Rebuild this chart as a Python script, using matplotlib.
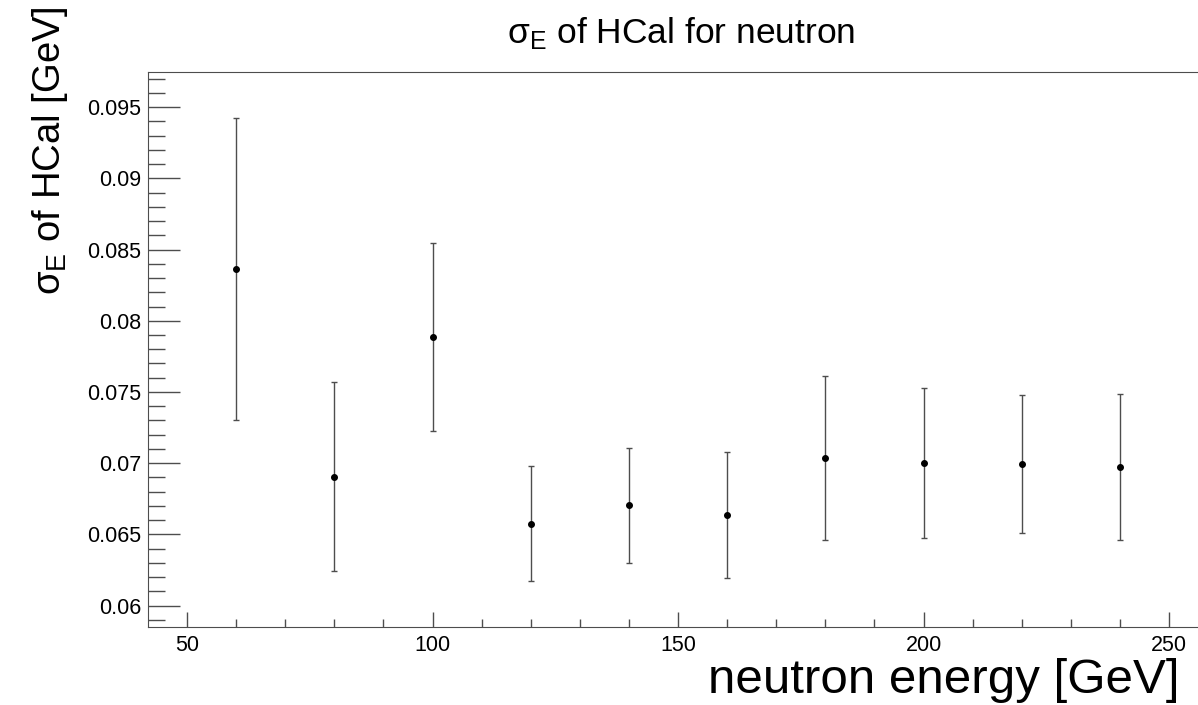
import matplotlib
matplotlib.use("Agg")
import matplotlib.pyplot as plt
from matplotlib.ticker import MultipleLocator, FuncFormatter

plt.rcParams['font.family'] = ['Liberation Sans', 'DejaVu Sans']

# neutron energy [GeV] and sigma_E with its error
energy = [60, 80, 100, 120, 140, 160, 180, 200, 220, 240]
sigma = [0.08362, 0.06905, 0.07885, 0.06575, 0.06706, 0.06634,
         0.07036, 0.07001, 0.06996, 0.06973]
sigma_err = [0.01059, 0.00662, 0.00660, 0.00404, 0.00404, 0.00442,
             0.00576, 0.00524, 0.00483, 0.00512]

fig = plt.figure(figsize=(11.98, 7.05), dpi=100)
ax = fig.add_axes([0.1233, 0.1106, 0.8853, 0.7868])

ax.errorbar(energy, sigma, yerr=sigma_err, fmt='o', color='black',
            ms=4, ecolor='0.3', elinewidth=1.0, capsize=2, capthick=1.0)

ax.set_xlim(42, 258)
ax.set_ylim(0.0585, 0.09744)

ax.xaxis.set_major_locator(MultipleLocator(50))
ax.xaxis.set_minor_locator(MultipleLocator(10))
ax.yaxis.set_major_locator(MultipleLocator(0.005))
ax.yaxis.set_minor_locator(MultipleLocator(0.001))
ax.yaxis.set_major_formatter(FuncFormatter(lambda v, p: '%g' % round(v, 4)))

ax.tick_params(axis='both', which='both', direction='in', colors='0.3',
               labelcolor='black', labelsize=15.5, width=1.0)
ax.tick_params(axis='y', which='major', length=23, pad=4.5)
ax.tick_params(axis='y', which='minor', length=12)
ax.tick_params(axis='x', which='major', length=11, pad=6)
ax.tick_params(axis='x', which='minor', length=5.5)

for side in ['left', 'bottom', 'top']:
    ax.spines[side].set_color('0.3')
ax.spines['right'].set_visible(False)

fig.text(681 / 1198, 1 - 43 / 705, 'σ$_{\\mathregular{E}}$ of HCal for neutron',
         ha='center', va='baseline', fontsize=25.5)
fig.text(1180 / 1198, 12 / 705, 'neutron energy [GeV]',
         ha='right', va='baseline', fontsize=35.5)
fig.text(60 / 1198, 1 - 6 / 705, 'σ$_{\\mathregular{E}}$ of HCal [GeV]',
         ha='right', va='baseline', rotation=90, rotation_mode='anchor',
         fontsize=27.5)

fig.savefig('out.png', dpi=100)
